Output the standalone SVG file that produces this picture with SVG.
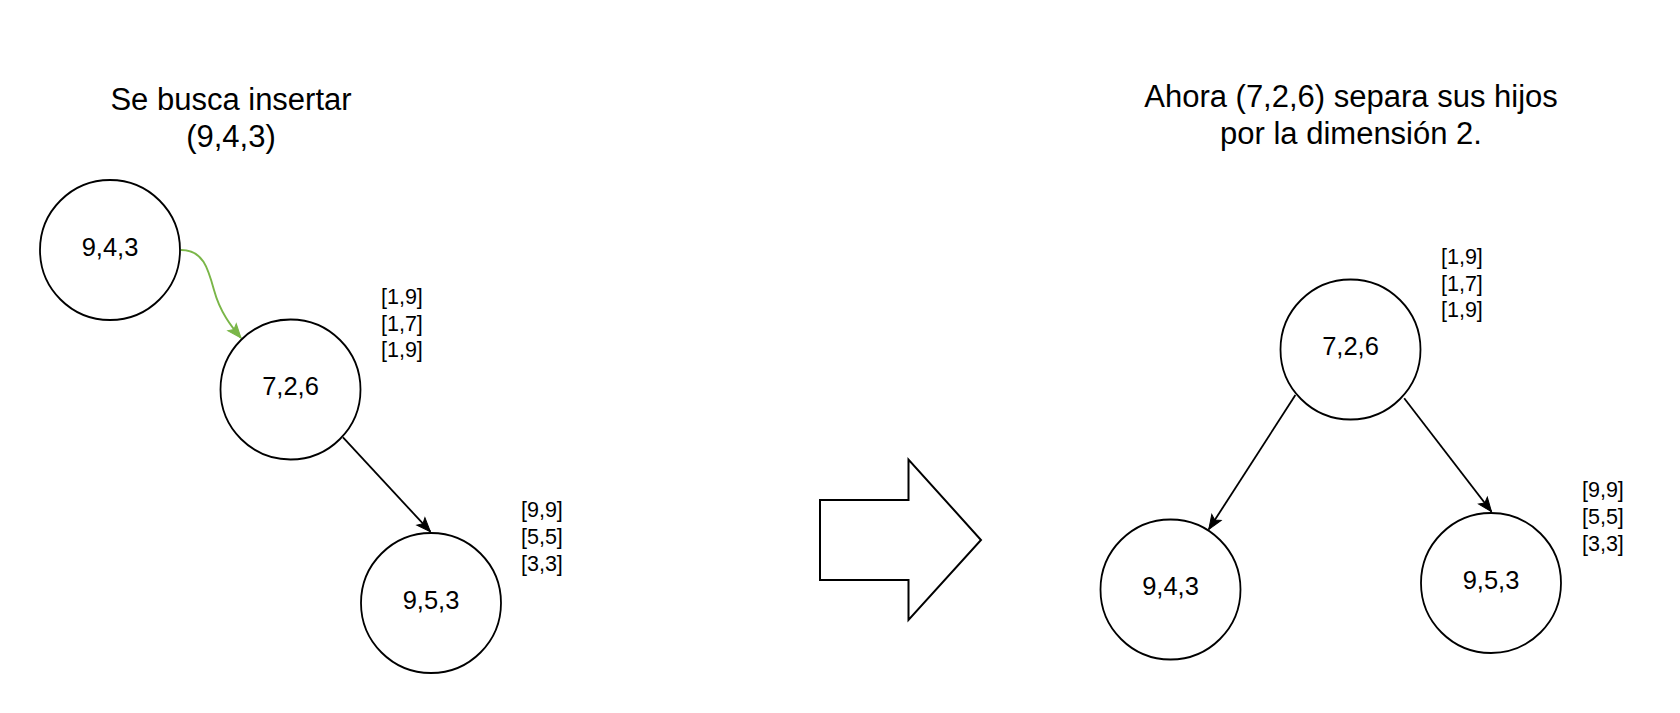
<svg xmlns="http://www.w3.org/2000/svg" width="1680" height="713" viewBox="0 0 1680 713">
<style>
.node circle{fill:#fff;stroke:#000;stroke-width:1.8}
.nt{font-family:"Liberation Sans",Arial,sans-serif;font-size:25.5px;text-anchor:middle;fill:#000}
.title{font-family:"Liberation Sans",Arial,sans-serif;font-size:31px;text-anchor:middle;fill:#000}
.lbl{font-family:"Liberation Sans",Arial,sans-serif;font-size:21.5px;fill:#000}
.edge{fill:none;stroke:#000;stroke-width:1.8}
.green{fill:none;stroke:#7AB648;stroke-width:1.9}
</style>
<defs>
<marker id="ab" markerUnits="userSpaceOnUse" markerWidth="16" markerHeight="12" refX="14" refY="5.5" orient="auto" overflow="visible">
<path d="M0,0 L14,5.5 L0,11 L3,5.5 z" fill="#000" stroke="#000" stroke-width="1"/>
</marker>
<marker id="ag" markerUnits="userSpaceOnUse" markerWidth="16" markerHeight="12" refX="14" refY="5.5" orient="auto" overflow="visible">
<path d="M0,0 L14,5.5 L0,11 L3,5.5 z" fill="#7AB648" stroke="#7AB648" stroke-width="1"/>
</marker>
</defs>
<rect width="1680" height="713" fill="#fff"/>

<g id="title-left">
<text class="title" x="231" y="110">Se busca insertar</text>
<text class="title" x="231" y="147">(9,4,3)</text>
</g>
<g id="title-right">
<text class="title" x="1351" y="107">Ahora (7,2,6) separa sus hijos</text>
<text class="title" x="1351" y="144">por la dimensión 2.</text>
</g>

<g id="connectors">
<path class="green" d="M181,250 C203,250 208,268 214,290 S231,326 241,338" marker-end="url(#ag)"/>
<line class="edge" x1="343" y1="437.3" x2="430.4" y2="531.7" marker-end="url(#ab)"/>
<line class="edge" x1="1295.4" y1="395" x2="1208.8" y2="529.3" marker-end="url(#ab)"/>
<line class="edge" x1="1404.2" y1="398.3" x2="1491.5" y2="511.7" marker-end="url(#ab)"/>
</g>

<g id="node-943-left" class="node">
<circle cx="110" cy="250" r="70"/>
<text class="nt" x="110" y="255.5">9,4,3</text>
</g>
<g id="node-726-left" class="node">
<circle cx="290.5" cy="389.5" r="70"/>
<text class="nt" x="290.5" y="395">7,2,6</text>
</g>
<g id="node-953-left" class="node">
<circle cx="431" cy="603" r="70"/>
<text class="nt" x="431" y="608.5">9,5,3</text>
</g>

<g id="labels-726-left">
<text class="lbl" x="381" y="304">[1,9]</text>
<text class="lbl" x="381" y="330.7">[1,7]</text>
<text class="lbl" x="381" y="357.4">[1,9]</text>
</g>
<g id="labels-953-left">
<text class="lbl" x="521" y="517">[9,9]</text>
<text class="lbl" x="521" y="543.8">[5,5]</text>
<text class="lbl" x="521" y="570.6">[3,3]</text>
</g>

<g id="big-arrow">
<polygon points="820,500 908.5,500 908.5,459.5 981,540 908.5,620 908.5,580 820,580" fill="#fff" stroke="#000" stroke-width="2"/>
</g>

<g id="node-726-right" class="node">
<circle cx="1350.5" cy="349.5" r="70"/>
<text class="nt" x="1350.5" y="355">7,2,6</text>
</g>
<g id="node-943-right" class="node">
<circle cx="1170.5" cy="589.5" r="70"/>
<text class="nt" x="1170.5" y="595">9,4,3</text>
</g>
<g id="node-953-right" class="node">
<circle cx="1491" cy="583" r="70"/>
<text class="nt" x="1491" y="588.5">9,5,3</text>
</g>

<g id="labels-726-right">
<text class="lbl" x="1441" y="264">[1,9]</text>
<text class="lbl" x="1441" y="290.7">[1,7]</text>
<text class="lbl" x="1441" y="317.4">[1,9]</text>
</g>
<g id="labels-953-right">
<text class="lbl" x="1582" y="497.3">[9,9]</text>
<text class="lbl" x="1582" y="524">[5,5]</text>
<text class="lbl" x="1582" y="550.7">[3,3]</text>
</g>
</svg>
